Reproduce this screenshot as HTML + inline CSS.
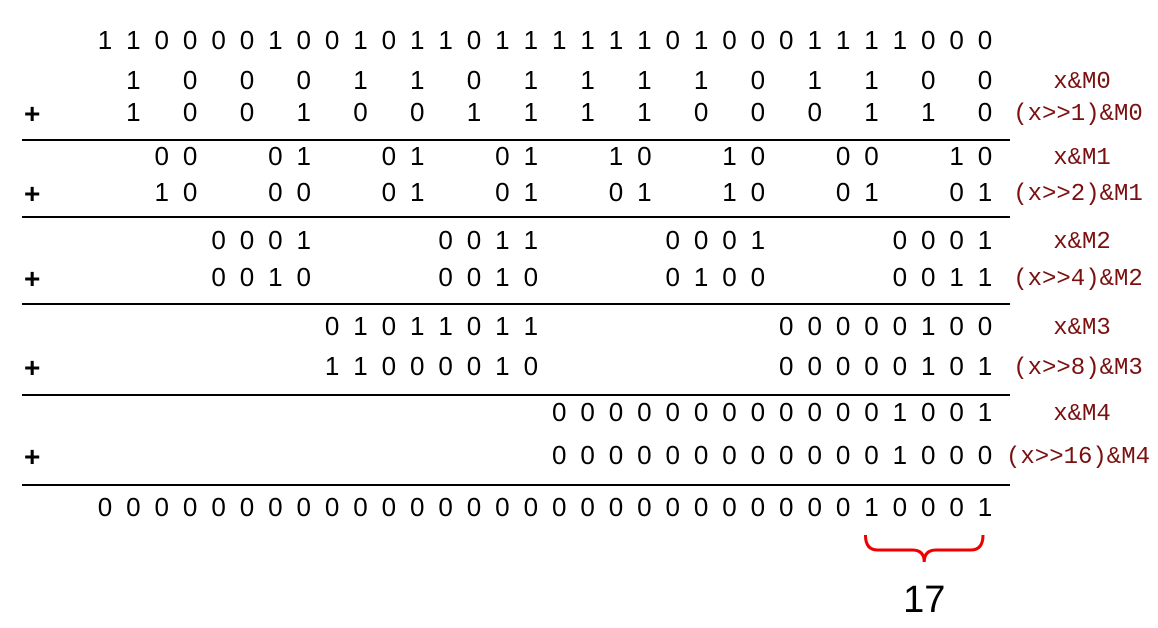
<!DOCTYPE html>
<html><head><meta charset="utf-8"><style>
html,body{margin:0;padding:0;background:#fff;}
svg{display:block;}
.d{font-family:"Liberation Sans",sans-serif;font-size:26px;fill:#000;text-anchor:middle;}
.l{font-family:"Liberation Mono",monospace;font-size:24px;fill:#7a1010;text-anchor:middle;}
.p{font-family:"Liberation Sans",sans-serif;font-size:28px;font-weight:bold;fill:#000;}
</style></head><body>
<svg id="s" width="1158" height="628" viewBox="0 0 1158 628"></svg>
<script>
const xBits = "11000010010110111111010001111000";
const rowBits = [
 [ "1000110111101100", 1, 80 ],
 [ "1001001111000110", 1, 112 ],
 [ "0001010110100010", 2, 156 ],
 [ "1000010101100101", 2, 192 ],
 [ "0001001100010001", 4, 240 ],
 [ "0010001001000011", 4, 277 ],
 [ "0101101100000100", 8, 326 ],
 [ "1100001000000101", 8, 366 ],
 [ "0000000000001001", 16, 412 ],
 [ "0000000000001000", 16, 455 ]
];
const labels = ["x&M0","(x>>1)&M0","x&M1","(x>>2)&M1","x&M2","(x>>4)&M2","x&M3","(x>>8)&M3","x&M4","(x>>16)&M4"];
const resultBits = "00000000000000000000000000010001";
const lineYs = [140, 217, 304, 395, 485];
const count = "17";
const NS="http://www.w3.org/2000/svg";
const s=document.getElementById('s');
const X0=105, DX=(985-105)/31;
function bx(i){return X0+DX*i;}
function txt(x,y,t,c){const e=document.createElementNS(NS,'text');e.setAttribute('x',x);e.setAttribute('y',y);e.setAttribute('class',c);e.textContent=t;s.appendChild(e);return e;}
for(let i=0;i<32;i++){
 const e=txt(bx(i),49,xBits[i],'d');
 
 
}
rowBits.forEach((r,ri)=>{
 const [bits,w,y]=r;
 let k=0;
 for(let g=0;g<32/(2*w);g++){
  for(let j=0;j<w;j++){
   const idx=g*2*w+w+j;
   const e=txt(bx(idx),y+9,bits[k++],'d');
   
   
  }
 }
 const lab=labels[ri];
 const l=txt(ri%2?1078:1082,y+8,lab,'l');
 
 
 if(ri%2){
  const p=txt(24,y+11,'+','p');
  
  
 }
});
lineYs.forEach(y=>{
 const ln=document.createElementNS(NS,'line');
 ln.setAttribute('x1',22);ln.setAttribute('x2',1010);ln.setAttribute('y1',y);ln.setAttribute('y2',y);
 ln.setAttribute('stroke','#000');ln.setAttribute('stroke-width','2');
 
 
 s.appendChild(ln);
});
for(let i=0;i<32;i++){
 const e=txt(bx(i),516,resultBits[i],'d');
 
 
}
const b=document.createElementNS(NS,'path');
const a=bx(27)-6,c=bx(31)-2,m=(a+c)/2;
b.setAttribute('d',`M${a},535 Q${a},550 ${a+12},550 L${m-12},550 Q${m},550 ${m},562 Q${m},550 ${m+12},550 L${c-12},550 Q${c},550 ${c},535`);
b.setAttribute('fill','none');b.setAttribute('stroke','#e00');b.setAttribute('stroke-width','3');


s.appendChild(b);
const n=txt(m,612,count,'d');
n.setAttribute('style','font-size:38px');


</script>
</body></html>
